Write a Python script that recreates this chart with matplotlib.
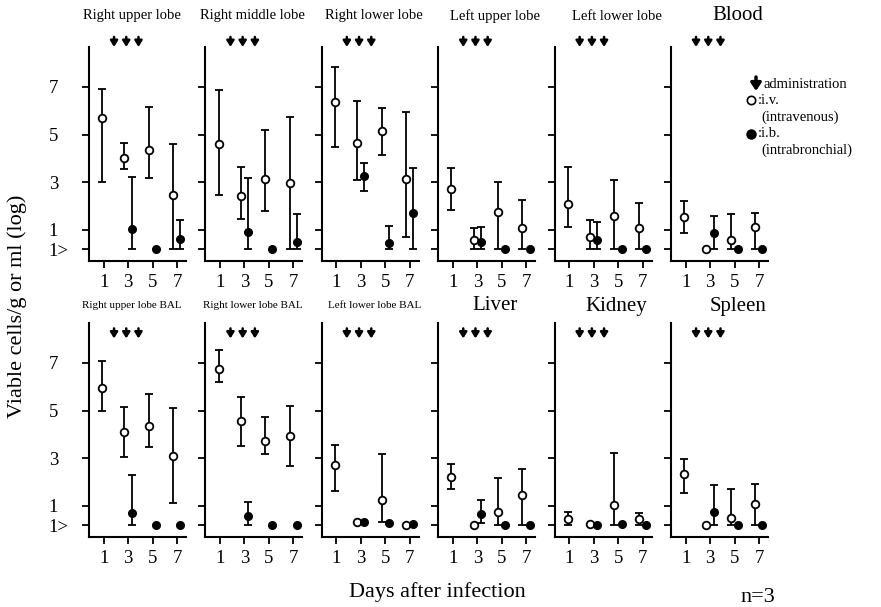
import numpy as np
import matplotlib
matplotlib.use('Agg')
import matplotlib.pyplot as plt
from matplotlib.lines import Line2D

plt.rcParams['font.family'] = ['Liberation Serif', 'DejaVu Serif']

nan = np.nan

# days of sampling / administration
days = [1, 3, 5, 7]
ib_days = [3, 5, 7]
admin_days = [2, 3, 4]

yticks = [0.2, 1, 3, 5, 7]
yticklabels = ['1>', '1', '3', '5', '7']

titles = ['Right upper lobe', 'Right middle lobe', 'Right lower lobe',
          'Left upper lobe', 'Left lower lobe', 'Blood',
          'Right upper lobe BAL', 'Right lower lobe BAL', 'Left lower lobe BAL',
          'Liver', 'Kidney', 'Spleen']

# i.v. (intravenous), days 1,3,5,7 -- log viable cells
iv_mean = [[5.69, 4.03, 4.36, 2.47],
           [4.61, 2.44, 3.14, 2.98],
           [6.38, 4.66, 5.17, 3.14],
           [2.72, 0.58, 1.74, 1.10],
           [2.09, 0.69, 1.60, 1.07],
           [1.53, 0.20, 0.58, 1.14],
           [5.94, 4.09, 4.36, 3.11],
           [6.75, 4.58, 3.73, 3.95],
           [2.72, 0.32, 1.25, 0.20],
           [2.20, 0.20, 0.73, 1.46],
           [0.44, 0.25, 1.04, 0.44],
           [2.33, 0.20, 0.51, 1.07]]
iv_low = [[3.00, 3.56, 3.19, 0.20],
          [2.47, 1.46, 1.80, 0.20],
          [4.50, 3.10, 4.15, 0.72],
          [1.84, 0.20, 0.20, 0.20],
          [1.14, 0.20, 0.20, 0.20],
          [0.86, nan, 0.20, 0.20],
          [5.00, 3.07, 3.49, 1.11],
          [6.22, 3.53, 3.17, 2.68],
          [1.64, nan, 0.32, nan],
          [1.71, nan, 0.20, 0.20],
          [0.20, nan, 0.20, 0.20],
          [1.56, nan, 0.20, 0.20]]
iv_high = [[6.90, 4.64, 6.15, 4.60],
           [6.87, 3.66, 5.20, 5.73],
           [7.85, 6.43, 6.13, 5.96],
           [3.59, 1.10, 3.03, 2.26],
           [3.63, 1.42, 3.10, 2.12],
           [2.22, nan, 1.66, 1.70],
           [7.10, 5.17, 5.70, 5.10],
           [7.55, 5.56, 4.75, 5.20],
           [3.56, nan, 3.18, nan],
           [2.76, nan, 2.16, 2.54],
           [0.76, nan, 3.21, 0.72],
           [2.97, nan, 1.70, 1.92]]

# i.b. (intrabronchial), days 3,5,7
ib_mean = [[1.03, 0.20, 0.62],
           [0.90, 0.20, 0.48],
           [3.28, 0.44, 1.73],
           [0.51, 0.20, 0.20],
           [0.58, 0.20, 0.20],
           [0.86, 0.20, 0.20],
           [0.69, 0.20, 0.20],
           [0.58, 0.20, 0.20],
           [0.32, 0.28, 0.25],
           [0.65, 0.22, 0.20],
           [0.20, 0.25, 0.20],
           [0.73, 0.20, 0.20]]
ib_low = [[0.20, nan, 0.20],
          [0.20, nan, 0.20],
          [2.64, 0.20, 0.20],
          [0.20, nan, nan],
          [0.20, nan, nan],
          [0.20, nan, nan],
          [0.20, nan, nan],
          [0.20, nan, nan],
          [nan, nan, nan],
          [0.27, nan, nan],
          [nan, nan, nan],
          [0.20, nan, nan]]
ib_high = [[3.24, nan, 1.42],
           [3.17, nan, 1.66],
           [3.82, 1.17, 3.61],
           [1.14, nan, nan],
           [1.35, nan, nan],
           [1.60, nan, nan],
           [2.30, nan, nan],
           [1.18, nan, nan],
           [nan, nan, nan],
           [1.25, nan, nan],
           [nan, nan, nan],
           [1.88, nan, nan]]

W, H = 881, 607
fig = plt.figure(figsize=(W / 100, H / 100), dpi=100)


def fx(x):
    return x / W


def fy(y):
    return 1 - y / H


big = {'Blood', 'Liver', 'Kidney', 'Spleen'}
ebkw = dict(fmt='none', ecolor='black', elinewidth=1.3, capsize=3, capthick=1.3)

for k, title in enumerate(titles):
    row, col = divmod(k, 6)
    left = 89 + 116.4 * col
    bot = 261.4 if row == 0 else 537.4
    ax = fig.add_axes([fx(left), fy(bot), 97 / W, 214 / H])
    ax.set_xlim(-0.2, 7.74)
    ax.set_ylim(-0.32, 8.66)
    for s in ['top', 'right']:
        ax.spines[s].set_visible(False)
    for s in ['left', 'bottom']:
        ax.spines[s].set_linewidth(1.5)

    # i.v.
    d = np.array(days, dtype=float)
    xiv = d + np.where(d == 1, -0.12, -0.3)
    m = np.array(iv_mean[k])
    lo = np.array(iv_low[k])
    hi = np.array(iv_high[k])
    ax.errorbar(xiv, m, yerr=[m - lo, hi - m], **ebkw)
    ax.plot(xiv, m, 'o', ms=5.5, mfc='white', mec='black', mew=1.3,
            ls='none', zorder=5, clip_on=False)

    # i.b.
    xib = np.array(ib_days, dtype=float) + 0.28
    m = np.array(ib_mean[k])
    lo = np.array(ib_low[k])
    hi = np.array(ib_high[k])
    ax.errorbar(xib, m, yerr=[m - lo, hi - m], **ebkw)
    ax.plot(xib, m, 'o', ms=5.5, mfc='black', mec='black',
            ls='none', zorder=5, clip_on=False)

    # administration arrows
    ytail, ytip = (9.1, 8.68) if row == 0 else (8.45, 8.03)
    for a in admin_days:
        ax.annotate('', xy=(a - 0.15, ytip), xytext=(a - 0.15, ytail),
                    arrowprops=dict(arrowstyle='-|>,head_length=0.35,head_width=0.22',
                                    lw=1.8, color='black', shrinkA=0, shrinkB=0),
                    annotation_clip=False)

    ax.set_xticks(days)
    ax.set_xticklabels([str(v) for v in days], fontsize=13.5)
    ax.set_yticks(yticks)
    if col == 0:
        ax.set_yticklabels(yticklabels, fontsize=13.5)
        for lab in ax.get_yticklabels():
            lab.set_ha('left')
        ax.tick_params(axis='y', pad=24)
    else:
        ax.set_yticklabels([])
    ax.tick_params(direction='out', length=5, width=1.3)
    ax.tick_params(axis='x', pad=4)

    # panel title
    if title in big:
        fs = 15
    elif title.endswith('BAL'):
        fs = 8
    else:
        fs = 10.5
    ty = (16 if row == 0 else 306)
    fig.text(fx(left + (0.44 + 0.05 * col) * 97), fy(ty), title,
             ha='center', va='center', fontsize=fs)

# axis labels
fig.text(fx(17), fy(306), 'Viable cells/g or ml (log)', rotation=90,
         ha='center', va='center', fontsize=16)
fig.text(fx(437), fy(592), 'Days after infection', ha='center', va='center',
         fontsize=16)
fig.text(fx(758), fy(597), 'n=3', ha='center', va='center', fontsize=16)

# legend
fig.add_artist(plt.Annotation('', xy=(fx(756), fy(91)), xytext=(fx(756), fy(77)),
                              xycoords='figure fraction', textcoords='figure fraction',
                              arrowprops=dict(arrowstyle='-|>,head_length=0.45,head_width=0.3',
                                              lw=2.5, color='black', shrinkA=0, shrinkB=0)))
lfs = 10.5
fig.text(fx(764), fy(84), 'administration', ha='left', va='center', fontsize=lfs)
fig.add_artist(Line2D([fx(751)], [fy(100.5)], marker='o', ms=6, mfc='white', mec='black',
                      mew=1.2, transform=fig.transFigure))
fig.text(fx(758), fy(100.5), ':i.v.', ha='left', va='center', fontsize=lfs)
fig.text(fx(761), fy(117), '(intravenous)', ha='left', va='center', fontsize=lfs)
fig.add_artist(Line2D([fx(751)], [fy(133.5)], marker='o', ms=6.5, mfc='black', mec='black',
                      transform=fig.transFigure))
fig.text(fx(758), fy(133.5), ':i.b.', ha='left', va='center', fontsize=lfs)
fig.text(fx(761), fy(150), '(intrabronchial)', ha='left', va='center', fontsize=lfs)

fig.savefig('out.png', dpi=100)
